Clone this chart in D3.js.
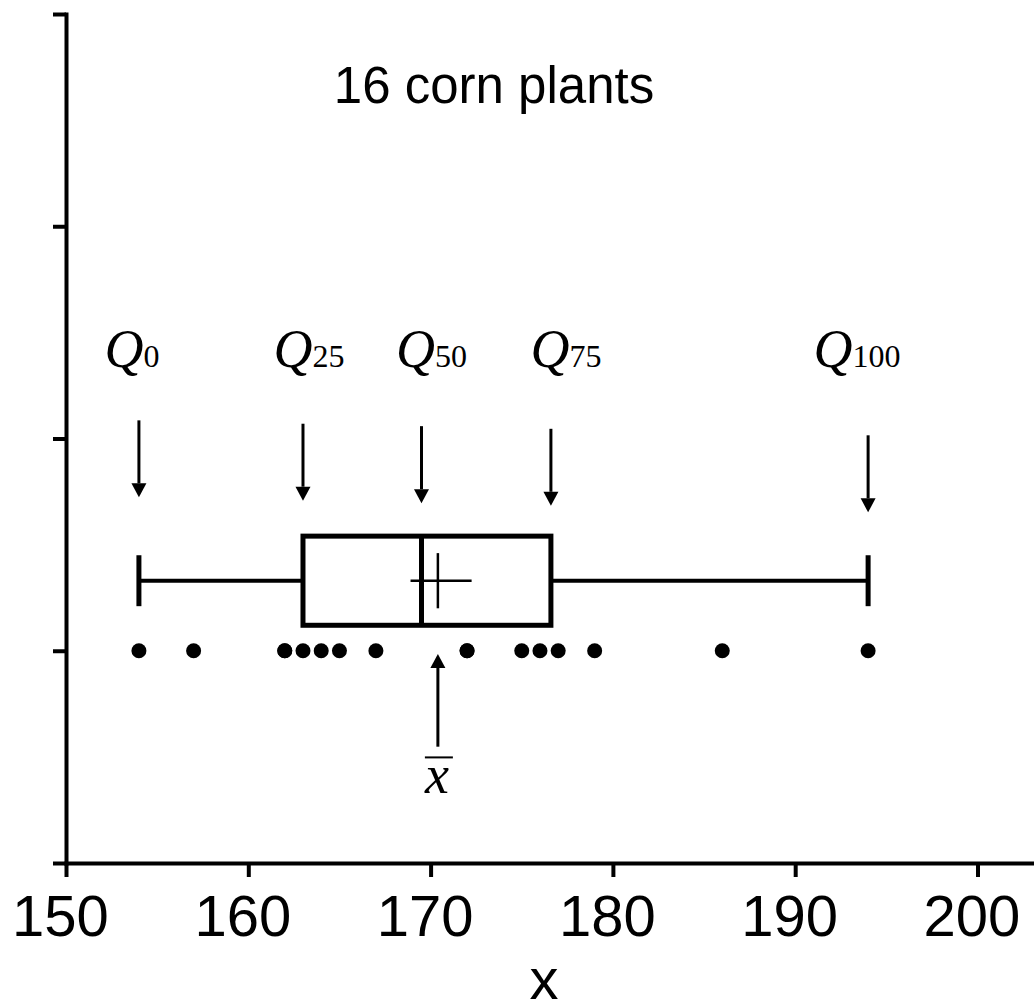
<!DOCTYPE html>
<meta charset="utf-8">
<style>
body { margin: 0; background: #fff; }
svg { display: block; }
.axis path, .axis line { stroke: #000; stroke-width: 4; }
.axis text { font-family: "Liberation Sans", Arial, sans-serif; font-size: 58px; fill: #000; }
.lbl { font-family: "Liberation Sans", Arial, sans-serif; fill: #000; }
.q { font-family: "Liberation Serif", "Times New Roman", serif; fill: #000; }
</style>
<svg width="1034" height="1005"></svg>
<script src="https://d3js.org/d3.v7.min.js"></script>
<script>

// heights of the 16 corn plants (two values are hidden by duplicates)
var heights = [154, 157, 162, 162, 163, 164, 165, 167, 172, 172, 175, 176, 177, 179, 186, 194];
var quartSubs = ["0", "25", "50", "75", "100"];
var quartValues = [154, 163, 169.5, 176.6, 194];
var meanValue = 170.4;
var xTicks = [150, 160, 170, 180, 190, 200];
var yTicks = [0, 1, 2, 3, 4];
var title = "16 corn plants",
    xTitle = "x";

var svg = d3.select("svg");

var x = d3.scaleLinear().domain([150, 203.1]).range([66, 1034]);
var y = d3.scaleLinear().domain([0, 4]).range([863, 14]);

// axes
svg.append("g")
    .attr("class", "axis")
    .attr("transform", "translate(0,863)")
    .call(d3.axisBottom(x).tickValues(xTicks).tickSize(14).tickSizeOuter(0).tickPadding(18))
    .selectAll("text").attr("dx", -6);

svg.append("g")
    .attr("class", "axis")
    .attr("transform", "translate(66,0)")
    .call(d3.axisLeft(y).tickValues(yTicks).tickSize(13).tickSizeOuter(0).tickFormat(""));

svg.selectAll(".axis path").attr("stroke-linecap", "square");

// data points
svg.append("g").selectAll("circle")
    .data(heights)
  .enter().append("circle")
    .attr("cx", function(d) { return x(d); })
    .attr("cy", y(1))
    .attr("r", 7.5)
    .attr("fill", "#000");

// box plot
var mid = 1.33, half = 0.21, cap = 0.12;
var box = svg.append("g").attr("stroke", "#000").attr("fill", "none");

box.append("rect")
    .attr("x", x(quartValues[1]))
    .attr("y", y(mid + half))
    .attr("width", x(quartValues[3]) - x(quartValues[1]))
    .attr("height", y(mid - half) - y(mid + half))
    .attr("stroke-width", 5);

box.append("line")
    .attr("x1", x(quartValues[2])).attr("x2", x(quartValues[2]))
    .attr("y1", y(mid + half)).attr("y2", y(mid - half))
    .attr("stroke-width", 5);

[[0, 1], [3, 4]].forEach(function(p) {
  box.append("line")
      .attr("x1", x(quartValues[p[0]])).attr("x2", x(quartValues[p[1]]))
      .attr("y1", y(mid)).attr("y2", y(mid))
      .attr("stroke-width", 4);
});

[0, 4].forEach(function(i) {
  box.append("line")
      .attr("x1", x(quartValues[i])).attr("x2", x(quartValues[i]))
      .attr("y1", y(mid + cap)).attr("y2", y(mid - cap))
      .attr("stroke-width", 5);
});

// mean cross
box.append("line")
    .attr("x1", x(meanValue)).attr("x2", x(meanValue))
    .attr("y1", y(mid + 0.13)).attr("y2", y(mid - 0.13))
    .attr("stroke-width", 2.5);
box.append("line")
    .attr("x1", x(meanValue - 1.5)).attr("x2", x(meanValue + 1.85))
    .attr("y1", y(mid)).attr("y2", y(mid))
    .attr("stroke-width", 2.5);

// arrows
function arrow(ax, yTail, yTip) {
  var dir = yTip > yTail ? 1 : -1, head = 14, w = 7.5;
  svg.append("line")
      .attr("x1", ax).attr("x2", ax)
      .attr("y1", yTail).attr("y2", yTip - dir * head)
      .attr("stroke", "#000").attr("stroke-width", 3);
  svg.append("path")
      .attr("d", "M" + (ax - w) + "," + (yTip - dir * head) + "L" + (ax + w) + "," + (yTip - dir * head) + "L" + ax + "," + yTip + "Z")
      .attr("fill", "#000");
}

var labelDx = [-7, 6, 10, 15, -11];
quartValues.forEach(function(v, i) {
  var ax = x(v),
      top = y(2.1) + 3 + (ax - 135) * 0.0205;
  arrow(ax, top, top + 77);

  var t = svg.append("text")
      .attr("class", "q")
      .attr("x", ax + labelDx[i])
      .attr("y", y(2.337))
      .attr("text-anchor", "middle");
  t.append("tspan").attr("font-style", "italic").attr("font-size", 54).text("Q");
  t.append("tspan").attr("font-size", 32).text(quartSubs[i]);
});

// mean arrow and label
arrow(x(meanValue), y(0.548), y(0.985));
svg.append("line")
    .attr("x1", x(meanValue) - 13).attr("x2", x(meanValue) + 15)
    .attr("y1", y(0.4975)).attr("y2", y(0.4975))
    .attr("stroke", "#000").attr("stroke-width", 2);
svg.append("text")
    .attr("class", "q")
    .attr("x", x(meanValue) - 1)
    .attr("y", y(0.33))
    .attr("text-anchor", "middle")
    .attr("font-style", "italic")
    .attr("font-size", 54)
    .text("x");

// titles
svg.append("text")
    .attr("class", "lbl")
    .attr("x", 494).attr("y", 103)
    .attr("text-anchor", "middle")
    .attr("font-size", 51)
    .text(title);

svg.append("text")
    .attr("class", "lbl")
    .attr("x", 544).attr("y", 999)
    .attr("text-anchor", "middle")
    .attr("font-size", 58)
    .text(xTitle);

</script>
